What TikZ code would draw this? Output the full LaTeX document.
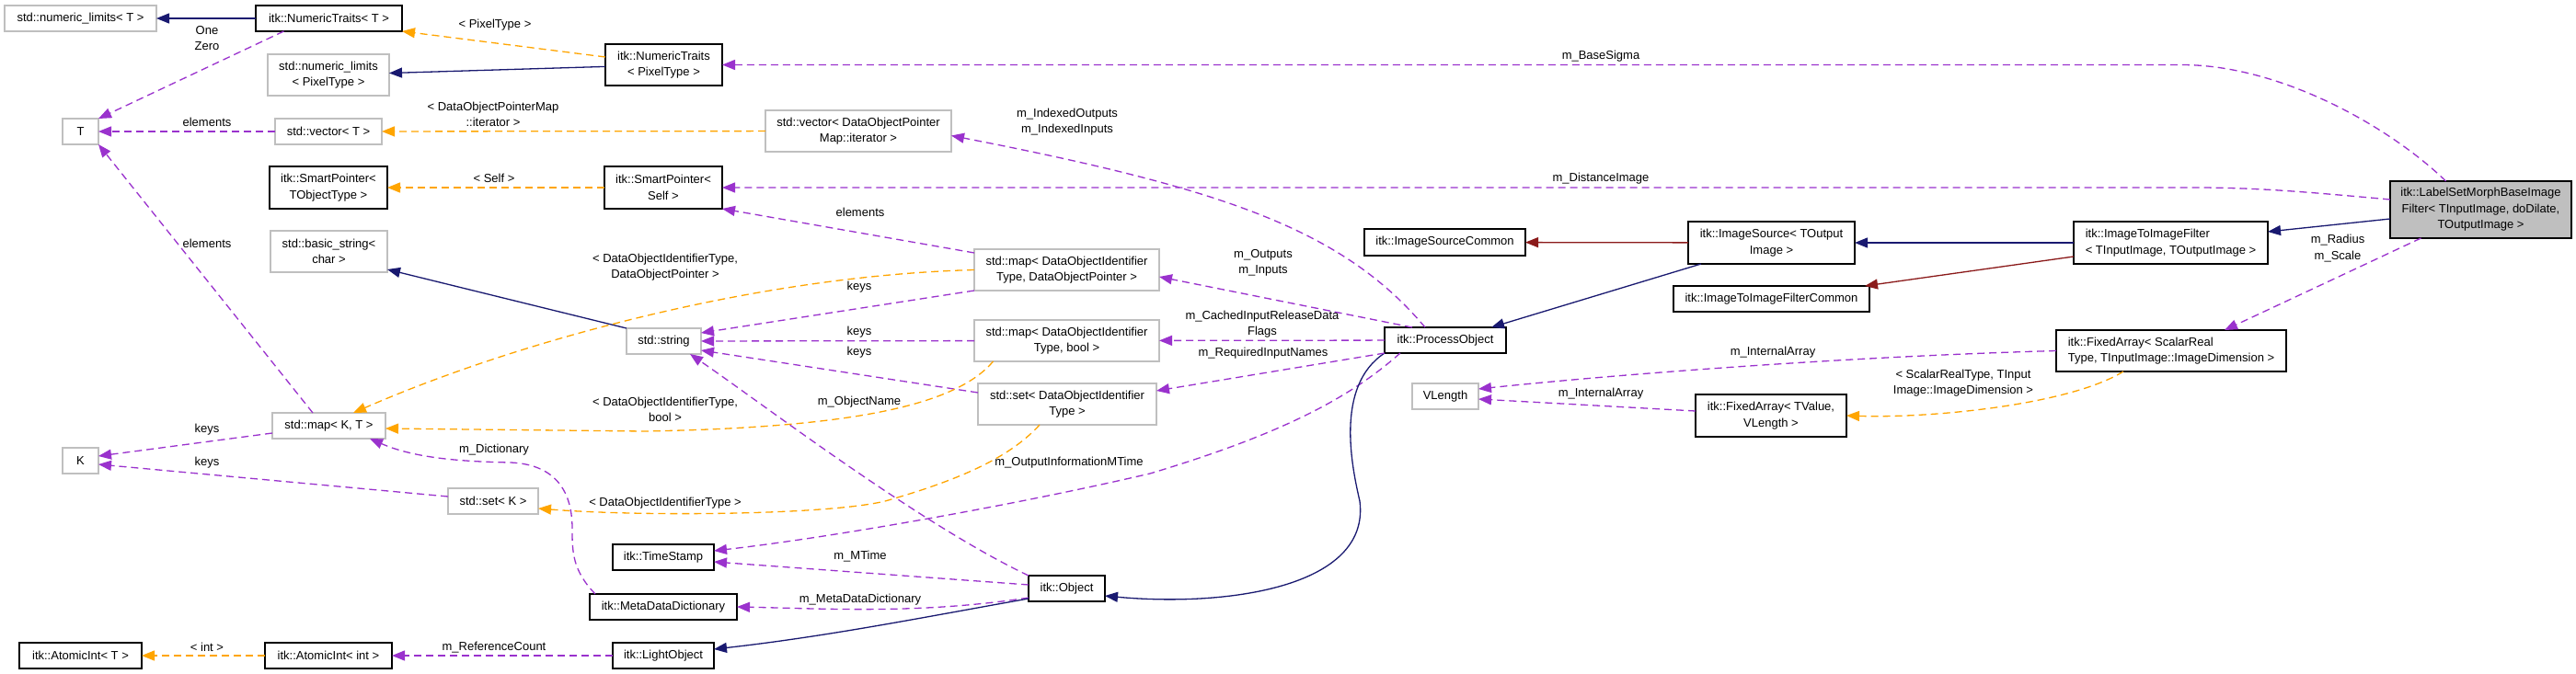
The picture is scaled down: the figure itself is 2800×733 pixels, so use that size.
\documentclass[tikz,border=0pt]{standalone}
\usepackage{fontspec}
\setmainfont{Liberation Sans}
\usetikzlibrary{arrows.meta}
\definecolor{navyc}{HTML}{191970}
\definecolor{dredc}{HTML}{8B1A1A}
\definecolor{purpc}{HTML}{9A32CD}
\definecolor{orngc}{HTML}{FFA500}
\definecolor{boxg}{HTML}{BFBFBF}
\begin{document}
\begin{tikzpicture}[x=1pt,y=-1pt,
  every node/.style={font=\fontsize{13pt}{17.5pt}\selectfont},
  nbox/.style={draw=black, line width=1.3pt, rectangle, inner sep=0pt, outer sep=0pt, align=center},
  gnbox/.style={nbox, draw=boxg},
  elbl/.style={align=center, inner sep=0pt},
  arrowhd/.style={-{Triangle[length=14pt,width=11pt]}},
  inhedge/.style={draw=navyc, line width=1.3pt, arrowhd},
  inhredge/.style={draw=dredc, line width=1.3pt, arrowhd},
  usedge/.style={draw=purpc, line width=1.3pt, dash pattern=on 8pt off 5pt, arrowhd},
  tmpedge/.style={draw=orngc, line width=1.3pt, dash pattern=on 8pt off 5pt, arrowhd},
]
\fill[white] (0,0) rectangle (2800,733);
\useasboundingbox (0,0) rectangle (2800,733);

% nodes
\node[gnbox, minimum width=165pt, minimum height=28pt] (numlimT) at (87.5,20) {std::numeric\_limits< T >};
\node[nbox, minimum width=159pt, minimum height=28pt] (ntT) at (357.5,20) {itk::NumericTraits< T >};
\node[gnbox, minimum width=132pt, minimum height=45pt] (numlimPix) at (357,81.5) {std::numeric\_limits\\< PixelType >};
\node[nbox, minimum width=127pt, minimum height=45pt] (ntPix) at (721.5,70.5) {itk::NumericTraits\\< PixelType >};
\node[gnbox, minimum width=39pt, minimum height=28pt] (T) at (87.5,143) {T};
\node[gnbox, minimum width=116pt, minimum height=28pt] (vecT) at (357,143) {std::vector< T >};
\node[gnbox, minimum width=202pt, minimum height=45pt] (vecDOPM) at (933,142.5) {std::vector< DataObjectPointer\\Map::iterator >};
\node[nbox, minimum width=128pt, minimum height=46pt] (spTO) at (357,204) {itk::SmartPointer<\\TObjectType >};
\node[nbox, minimum width=128pt, minimum height=46pt] (spSelf) at (721,204) {itk::SmartPointer<\\Self >};
\node[gnbox, minimum width=127pt, minimum height=45pt] (bstr) at (357.5,273.5) {std::basic\_string<\\char >};
\node[gnbox, minimum width=81pt, minimum height=28pt] (str) at (721.5,371) {std::string};
\node[gnbox, minimum width=201pt, minimum height=45pt] (mapDOP) at (1159.5,293.5) {std::map< DataObjectIdentifier\\Type, DataObjectPointer >};
\node[gnbox, minimum width=201pt, minimum height=45pt] (mapBool) at (1159.5,370.5) {std::map< DataObjectIdentifier\\Type, bool >};
\node[gnbox, minimum width=194pt, minimum height=45pt] (setDOIT) at (1160,439.5) {std::set< DataObjectIdentifier\\Type >};
\node[gnbox, minimum width=123pt, minimum height=28pt] (mapKT) at (357.5,463) {std::map< K, T >};
\node[gnbox, minimum width=39pt, minimum height=28pt] (K) at (87.5,501) {K};
\node[gnbox, minimum width=98pt, minimum height=28pt] (setK) at (536,545) {std::set< K >};
\node[nbox, minimum width=110pt, minimum height=28pt] (ts) at (721,606) {itk::TimeStamp};
\node[nbox, minimum width=160pt, minimum height=28pt] (mdd) at (721,660) {itk::MetaDataDictionary};
\node[nbox, minimum width=110pt, minimum height=28pt] (lo) at (721,713) {itk::LightObject};
\node[nbox, minimum width=83pt, minimum height=28pt] (obj) at (1159.5,640) {itk::Object};
\node[nbox, minimum width=133pt, minimum height=28pt] (aiT) at (87.5,713) {itk::AtomicInt< T >};
\node[nbox, minimum width=138pt, minimum height=28pt] (aiInt) at (357,713) {itk::AtomicInt< int >};
\node[nbox, minimum width=132pt, minimum height=28pt] (po) at (1571,370) {itk::ProcessObject};
\node[nbox, minimum width=175pt, minimum height=29pt] (isc) at (1570.5,263.5) {itk::ImageSourceCommon};
\node[nbox, minimum width=181pt, minimum height=46pt] (is) at (1925.5,264) {itk::ImageSource< TOutput\\Image >};
\node[nbox, minimum width=213pt, minimum height=28pt] (itifc) at (1925.5,325) {itk::ImageToImageFilterCommon};
\node[nbox, minimum width=211pt, minimum height=46pt, align=left] (itif) at (2359.5,264) {itk::ImageToImageFilter\\< TInputImage, TOutputImage >};
\node[gnbox, minimum width=72pt, minimum height=28pt] (vlen) at (1571,431) {VLength};
\node[nbox, minimum width=164pt, minimum height=46pt] (fatv) at (1925,452) {itk::FixedArray< TValue,\\VLength >};
\node[nbox, minimum width=250pt, minimum height=45pt, align=left] (fasr) at (2360,381.5) {itk::FixedArray< ScalarReal\\Type, TInputImage::ImageDimension >};
\node[nbox, fill=boxg, minimum width=197pt, minimum height=62pt] (ls) at (2696.5,228) {itk::LabelSetMorphBaseImage\\Filter< TInputImage, doDilate,\\TOutputImage >};

% edges
\draw[inhedge] (ntT) -- (numlimT);
\draw[usedge] ([xshift=-49pt]ntT.south) -- (T.north east);
\draw[tmpedge] ([yshift=8.5pt]ntPix.west) -- (ntT.south east);
\draw[inhedge] (ntPix) -- (numlimPix);
\draw[usedge] ([xshift=-38pt]ls.north) .. controls (2600,140) and (2480,70) .. (2370,70.5) -- (ntPix);
\draw[usedge] (vecT) -- (T);
\draw[tmpedge] (vecDOPM) -- (vecT);
\draw[usedge] ([xshift=-22pt]po.north) .. controls (1460,250) and (1330,205) .. ([yshift=-5pt]vecDOPM.east);
\draw[tmpedge] (spSelf) -- (spTO);
\draw[usedge] ([yshift=11pt]ls.west) .. controls (2500,208) and (2450,204) .. (2385,204) -- (spSelf);
\draw[usedge] ([yshift=-4pt]mapDOP.north west) -- (spSelf.south east);
\draw[inhedge] (str.north west) -- ([yshift=3pt]bstr.south east);
\draw[usedge] (mapDOP.south west) -- ([yshift=9pt]str.east);
\draw[usedge] (mapBool) -- (str);
\draw[usedge] ([yshift=12.5pt]setDOIT.west) -- ([yshift=-10pt]str.east);
\draw[tmpedge] (mapDOP.west) .. controls (820,300) and (560,372) .. ([xshift=26.5pt]mapKT.north);
\draw[tmpedge] ([xshift=-80pt]mapBool.south) .. controls (1040,440) and (930,465) .. (700,469) -- ([yshift=-3pt]mapKT.east);
\draw[tmpedge] ([xshift=-30pt]setDOIT.south) .. controls (1100,495) and (1050,520) .. (962,545) .. controls (900,560) and (700,562) .. ([yshift=-8pt]setK.east);
\draw[usedge] ([xshift=-17.5pt]mapKT.north) -- (T.south east);
\draw[usedge] ([yshift=-8pt]mapKT.west) -- ([yshift=5pt]K.east);
\draw[usedge] ([yshift=5pt]setK.west) -- ([yshift=-4pt]K.east);
\draw[usedge] ([xshift=-74pt]mdd.north) .. controls (622,620) and (622,600) .. (622,575) .. controls (622,530) and (600,505) .. (555,503) .. controls (500,502) and (450,498) .. ([xshift=44.5pt]mapKT.south);
\draw[tmpedge] (aiInt) -- (aiT);
\draw[usedge] (lo) -- (aiInt);
\draw[usedge] ([xshift=17pt]po.south west) .. controls (1470,430) and (1400,470) .. (1250,515) .. controls (1100,550) and (900,585) .. ([yshift=7pt]ts.east);
\draw[usedge] ([yshift=4pt]obj.west) -- ([yshift=-5pt]ts.east);
\draw[usedge] ([yshift=-10pt]obj.west) .. controls (1000,668) and (900,662) .. (mdd.east);
\draw[inhedge] ([yshift=-11pt]obj.west) .. controls (1000,672) and (900,692) .. ([yshift=7pt]lo.east);
\draw[usedge] (obj.north west) .. controls (1000,570) and (830,440) .. ([xshift=-12pt]str.south east);
\draw[inhedge] (po.south west) .. controls (1450,420) and (1470,510) .. (1478,545) .. controls (1490,640) and (1330,660) .. ([yshift=-8pt]obj.east);
\draw[inhedge] ([xshift=14pt]is.south west) -- ([xshift=-16pt]po.north east);
\draw[inhredge] (is) -- (isc);
\draw[inhedge] (itif) -- (is);
\draw[inhredge] ([yshift=-15pt]itif.west) -- ([xshift=-5pt]itifc.north east);
\draw[inhedge] ([yshift=-10pt]ls.west) -- ([yshift=12pt]itif.east);
\draw[usedge] ([xshift=-65pt]ls.south) -- ([xshift=58pt]fasr.north);
\draw[usedge] (fasr.west) .. controls (2000,388) and (1750,408) .. ([yshift=8pt]vlen.east);
\draw[usedge] ([yshift=5pt]fatv.west) -- ([yshift=-3pt]vlen.east);
\draw[tmpedge] ([xshift=-52pt]fasr.south) .. controls (2250,440) and (2100,455) .. (fatv.east);
\draw[usedge] ([xshift=30pt]po.north west) -- ([yshift=-7.5pt]mapDOP.east);
\draw[usedge] (po) -- (mapBool);
\draw[usedge] (po.south west) -- ([yshift=14.5pt]setDOIT.east);

% edge labels
\node[elbl] (lOne) at (225,41.5) {One\\Zero};
\node[elbl] (lPix) at (538,27) {< PixelType >};
\node[elbl] (lBase) at (1740,61) {m\_BaseSigma};
\node[elbl] (lEl1) at (225,133) {elements};
\node[elbl] (lDOPM) at (536,124.5) {< DataObjectPointerMap\\::iterator >};
\node[elbl] (lIdx) at (1160,132.5) {m\_IndexedOutputs\\m\_IndexedInputs};
\node[elbl] (lSelf) at (537,194) {< Self >};
\node[elbl] (lDist) at (1740,194) {m\_DistanceImage};
\node[elbl] (lEl2) at (935,231) {elements};
\node[elbl] (lEl3) at (225,265) {elements};
\node[elbl] (lDOIP) at (723,290.5) {< DataObjectIdentifierType,\\DataObjectPointer >};
\node[elbl] (lK1) at (934,312) {keys};
\node[elbl] (lOut) at (1373,286) {m\_Outputs\\m\_Inputs};
\node[elbl] (lK2) at (934,361) {keys};
\node[elbl] (lK3) at (934,383) {keys};
\node[elbl] (lCach) at (1372,352.5) {m\_CachedInputReleaseData\\Flags};
\node[elbl] (lReq) at (1373,384) {m\_RequiredInputNames};
\node[elbl] (lIA1) at (1927,383) {m\_InternalArray};
\node[elbl] (lSRT) at (2134,416.5) {< ScalarRealType, TInput\\Image::ImageDimension >};
\node[elbl] (lIA2) at (1740,428) {m\_InternalArray};
\node[elbl] (lRad) at (2541,270) {m\_Radius\\m\_Scale};
\node[elbl] (lDOIB) at (723,445.5) {< DataObjectIdentifierType,\\bool >};
\node[elbl] (lObjN) at (934,437) {m\_ObjectName};
\node[elbl] (lK4) at (225,467) {keys};
\node[elbl] (lDict) at (537,489) {m\_Dictionary};
\node[elbl] (lK5) at (225,503) {keys};
\node[elbl] (lOIM) at (1162,503) {m\_OutputInformationMTime};
\node[elbl] (lDOIT) at (723,547) {< DataObjectIdentifierType >};
\node[elbl] (lMT) at (935,605) {m\_MTime};
\node[elbl] (lMDD) at (935,652) {m\_MetaDataDictionary};
\node[elbl] (lInt) at (225,704) {< int >};
\node[elbl] (lRef) at (537,704) {m\_ReferenceCount};
\end{tikzpicture}
\end{document}
